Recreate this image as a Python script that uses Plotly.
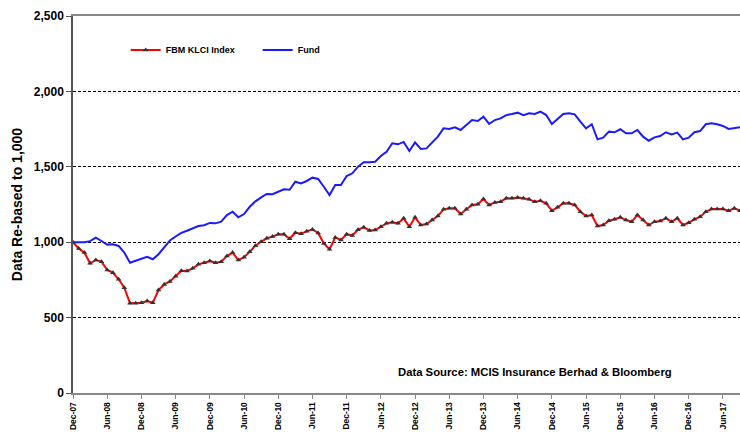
import pandas as pd
import plotly.graph_objects as go

months = list(pd.date_range("2007-12-01", periods=118, freq="MS").strftime("%b-%y"))

klci = [1000, 959, 931, 860, 882, 871, 816, 798, 754, 698,
        595, 595, 599, 610, 599, 683, 720, 740, 774, 810,
        809, 827, 853, 864, 875, 864, 871, 908, 931, 882,
        900, 937, 977, 1003, 1026, 1037, 1052, 1052, 1023, 1063,
        1056, 1072, 1085, 1061, 992, 953, 1031, 1015, 1053, 1045,
        1083, 1099, 1078, 1081, 1103, 1125, 1132, 1125, 1158, 1103,
        1165, 1114, 1121, 1147, 1174, 1218, 1225, 1225, 1187, 1218,
        1247, 1251, 1286, 1247, 1264, 1269, 1291, 1291, 1296, 1291,
        1284, 1269, 1275, 1258, 1209, 1231, 1258, 1258, 1247, 1202,
        1174, 1180, 1107, 1114, 1143, 1152, 1165, 1147, 1136, 1180,
        1147, 1114, 1136, 1141, 1158, 1136, 1158, 1114, 1129, 1152,
        1169, 1202, 1220, 1220, 1220, 1209, 1225, 1209]

fund = [1000, 1000, 1000, 1007, 1030, 1008, 984, 986, 975, 931,
        864, 877, 891, 903, 887, 920, 966, 1011, 1038, 1062,
        1076, 1092, 1107, 1113, 1128, 1125, 1136, 1180, 1202, 1165,
        1187, 1235, 1271, 1297, 1320, 1318, 1335, 1351, 1348, 1401,
        1390, 1406, 1428, 1419, 1368, 1313, 1379, 1379, 1439, 1457,
        1501, 1530, 1530, 1534, 1572, 1600, 1656, 1649, 1665, 1605,
        1662, 1618, 1622, 1660, 1700, 1755, 1751, 1762, 1744, 1777,
        1810, 1804, 1832, 1784, 1810, 1821, 1843, 1850, 1859, 1843,
        1855, 1850, 1866, 1843, 1784, 1817, 1850, 1855, 1848, 1799,
        1755, 1782, 1682, 1693, 1733, 1729, 1749, 1722, 1722, 1744,
        1700, 1673, 1695, 1704, 1729, 1715, 1727, 1682, 1693, 1729,
        1737, 1782, 1788, 1782, 1771, 1751, 1755, 1762]

tick_labels = months[::6]
y_ticks = [0, 500, 1000, 1500, 2000, 2500]

FONT = "Arial, Liberation Sans, sans-serif"

fig = go.Figure()
fig.add_trace(go.Scatter(
    x=months, y=klci, name="FBM KLCI Index", mode="lines+markers",
    line=dict(color="#FF0000", width=2),
    marker=dict(symbol="triangle-up", size=5, color="#333333"),
))
fig.add_trace(go.Scatter(
    x=months, y=fund, name="Fund", mode="lines",
    line=dict(color="#1a1aff", width=2),
))

fig.update_layout(
    width=740, height=432,
    margin=dict(l=73, r=0, t=16, b=39),
    paper_bgcolor="white", plot_bgcolor="white",
    font=dict(family=FONT, color="black"),
    showlegend=True,
    legend=dict(orientation="h", x=0.079, y=0.91, xanchor="left", yanchor="middle",
                font=dict(size=9, family=FONT, weight="bold"),
                bgcolor="rgba(0,0,0,0)", entrywidth=87, entrywidthmode="pixels"),
    annotations=[dict(
        text="Data Source: MCIS Insurance Berhad & Bloomberg",
        xref="paper", yref="paper", x=0.693, y=0.056,
        xanchor="center", yanchor="middle", showarrow=False,
        font=dict(size=11.3, family=FONT, weight="bold", color="black"),
    )],
)

fig.update_xaxes(
    type="category", range=[0, 117],
    tickmode="array", tickvals=tick_labels, ticktext=tick_labels,
    tickangle=-90, tickfont=dict(size=8.5, family=FONT, weight="bold"),
    showgrid=False, showline=True, linecolor="#888888", linewidth=1.5,
    mirror=True, ticks="outside", ticklen=4, tickcolor="#888888",
    zeroline=False,
)
fig.update_yaxes(
    range=[0, 2500], tickvals=y_ticks, tickformat=",d",
    tickfont=dict(size=12, family=FONT, weight="bold"),
    showgrid=True, gridcolor="black", gridwidth=1, griddash="3px,2px",
    showline=True, linecolor="#555555", linewidth=1.5,
    ticks="outside", ticklen=5, tickcolor="#555555",
    zeroline=False,
    title=dict(text="Data Re-based to 1,000", standoff=8,
               font=dict(size=14, family=FONT, weight="bold")),
)

fig.write_html("out.html",
               config={"displayModeBar": False},
               post_script="document.body.style.margin='0';document.body.style.overflow='hidden';")
